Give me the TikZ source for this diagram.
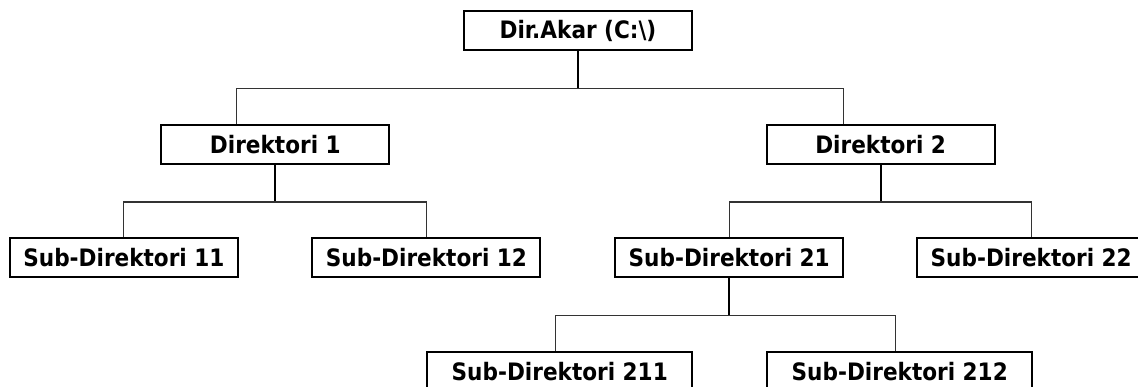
\documentclass[tikz,border=0pt]{standalone}
\usepackage{fontspec}
\setmainfont{DejaVu Sans Condensed}
\begin{document}
\begin{tikzpicture}
    \tikzstyle{every node}=[font=\bfseries\fontsize{18}{21}\selectfont, align=center]
    \tikzset{
        n/.style={draw, line width=1.5pt, minimum height=29.25pt, minimum width=171pt, inner sep=2pt},
        n2/.style={n, minimum width=198.75pt},
        trunk/.style={line width=1.5pt},
        branch/.style={line width=0.8pt, black!80},
        node distance=85.2pt
        }

    \useasboundingbox (0,0) rectangle (853.5pt,-289.5pt);

    %root
    \node (root) [n] at (433.5pt,-22.9pt) {Dir.Akar (C:\textbackslash)};

    %level 1
    \node (dir1) [n, below of=root, xshift=-227pt] {Direktori 1};
    \node (dir2) [n, below of=root, xshift=227pt] {Direktori 2};

    %level 2
    \node (sub11) [n, below of=dir1, xshift=-113.6pt] {Sub-Direktori 11};
    \node (sub12) [n, below of=dir1, xshift=113.3pt] {Sub-Direktori 12};
    \node (sub21) [n, below of=dir2, xshift=-113.6pt] {Sub-Direktori 21};
    \node (sub22) [n, below of=dir2, xshift=112.9pt] {Sub-Direktori 22};

    %level 3
    \node (sub211) [n2, below of=sub21, xshift=-127.1pt] {Sub-Direktori 211};
    \node (sub212) [n2, below of=sub21, xshift=127.9pt] {Sub-Direktori 212};

    %joints
    \coordinate (j0) at ([yshift=-28pt]root.south);
    \coordinate (j1) at ([yshift=-28pt]dir1.south);
    \coordinate (j2) at ([yshift=-28pt]dir2.south);
    \coordinate (j21) at ([yshift=-28pt]sub21.south);

    \draw[trunk] (root.south) -- (j0);
    \draw[branch] ([xshift=-28.9pt]dir1.north) |- (j0) -| ([xshift=-28.1pt]dir2.north);

    \draw[trunk] (dir1.south) -- (j1);
    \draw[branch] (sub11.north) |- (j1) -| ([xshift=0.4pt]sub12.north);

    \draw[trunk] (dir2.south) -- (j2);
    \draw[branch] (sub21.north) |- (j2) -| (sub22.north);

    \draw[trunk] (sub21.south) -- (j21);
    \draw[branch] ([xshift=-3.4pt]sub211.north) |- (j21) -| ([xshift=-3.4pt]sub212.north);
\end{tikzpicture}
\end{document}
